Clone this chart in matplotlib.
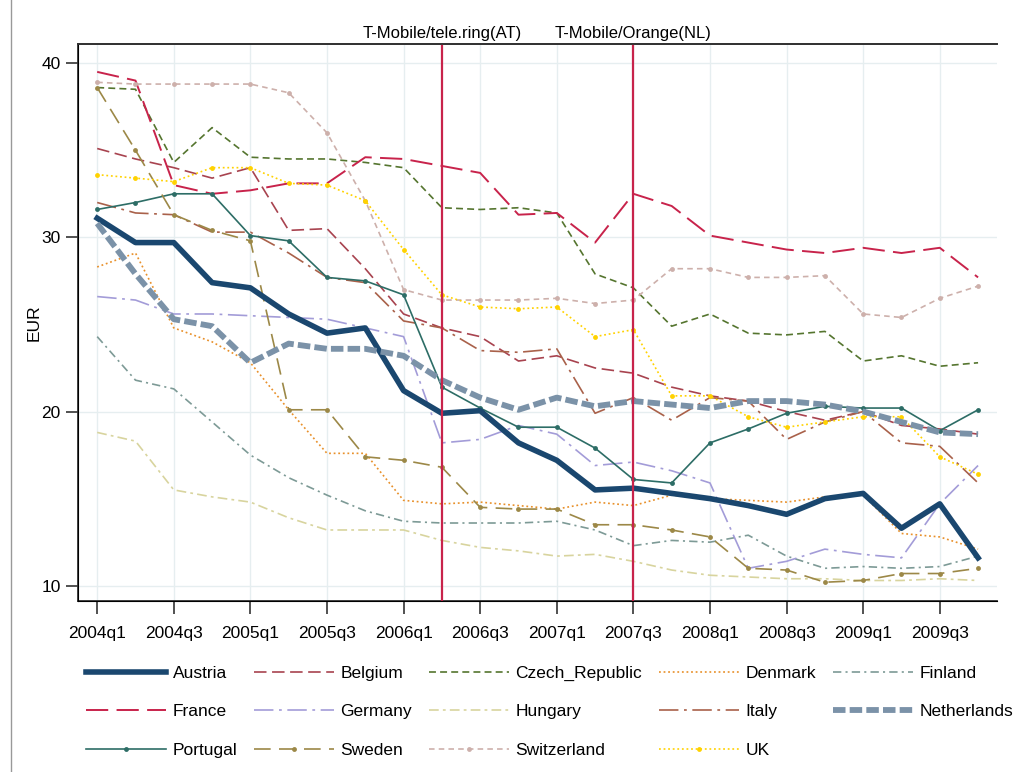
import matplotlib
matplotlib.use('Agg')
import matplotlib.pyplot as plt
from matplotlib.lines import Line2D

plt.rcParams['font.family'] = ['Liberation Sans', 'DejaVu Sans']
plt.rcParams['lines.scale_dashes'] = False

# quarters 2004q1 .. 2009q4
quarters = [f'{y}q{q}' for y in range(2004, 2010) for q in range(1, 5)]
tick_labels = quarters[::2]

austria = [31.1, 29.7, 29.7, 27.4, 27.1, 25.6, 24.5, 24.8, 21.2, 19.9, 20.05, 18.2,
           17.2, 15.5, 15.6, 15.3, 15.0, 14.6, 14.1, 15.0, 15.3, 13.3, 14.7, 11.6]
belgium = [35.1, 34.5, 34.0, 33.4, 34.0, 30.4, 30.5, 28.2, 25.6, 24.8, 24.3, 22.9,
           23.2, 22.5, 22.2, 21.4, 20.9, 20.6, 20.0, 19.5, 20.0, 19.2, 19.0, 18.7]
czech = [38.6, 38.5, 34.3, 36.3, 34.6, 34.5, 34.5, 34.3, 34.0, 31.7, 31.6, 31.7,
         31.4, 27.9, 27.1, 24.9, 25.6, 24.5, 24.4, 24.6, 22.9, 23.2, 22.6, 22.8]
denmark = [28.3, 29.1, 24.8, 24.0, 22.8, 20.1, 17.6, 17.6, 14.9, 14.7, 14.8, 14.6,
           14.4, 14.8, 14.6, 15.2, 15.0, 14.9, 14.8, 15.1, 15.2, 13.0, 12.8, 12.1]
finland = [24.3, 21.8, 21.3, 19.4, 17.5, 16.2, 15.2, 14.3, 13.7, 13.6, 13.6, 13.6,
           13.7, 13.2, 12.3, 12.6, 12.5, 12.9, 11.7, 11.0, 11.1, 11.0, 11.1, 11.7]
france = [39.5, 39.0, 33.0, 32.5, 32.7, 33.1, 33.1, 34.6, 34.5, 34.1, 33.7, 31.3,
          31.4, 29.7, 32.5, 31.8, 30.1, 29.7, 29.3, 29.1, 29.4, 29.1, 29.4, 27.7]
germany = [26.6, 26.4, 25.6, 25.6, 25.5, 25.4, 25.3, 24.8, 24.3, 18.2, 18.4, 19.2,
           18.7, 16.9, 17.1, 16.6, 15.9, 11.0, 11.4, 12.1, 11.8, 11.6, 14.7, 16.9]
hungary = [18.8, 18.3, 15.5, 15.1, 14.8, 13.9, 13.2, 13.2, 13.2, 12.6, 12.2, 12.0,
           11.7, 11.8, 11.4, 10.9, 10.6, 10.5, 10.4, 10.4, 10.3, 10.3, 10.4, 10.3]
italy = [32.0, 31.4, 31.3, 30.3, 30.3, 29.1, 27.7, 27.4, 25.2, 24.8, 23.5, 23.4,
         23.6, 19.9, 20.8, 19.5, 20.8, 20.6, 18.4, 19.4, 20.0, 18.2, 18.0, 15.9]
netherlands = [30.8, 27.9, 25.3, 24.9, 22.8, 23.9, 23.6, 23.6, 23.2, 21.8, 20.8, 20.1,
               20.8, 20.3, 20.6, 20.4, 20.2, 20.6, 20.6, 20.4, 20.0, 19.4, 18.8, 18.7]
portugal = [31.6, 32.0, 32.5, 32.5, 30.1, 29.8, 27.7, 27.5, 26.7, 21.4, 20.2, 19.1,
            19.1, 17.9, 16.1, 15.9, 18.2, 19.0, 19.9, 20.3, 20.2, 20.2, 18.9, 20.1]
sweden = [38.6, 35.0, 31.3, 30.4, 29.8, 20.1, 20.1, 17.4, 17.2, 16.8, 14.5, 14.4,
          14.4, 13.5, 13.5, 13.2, 12.8, 11.0, 10.9, 10.2, 10.3, 10.7, 10.7, 11.0]
switzerland = [38.9, 38.8, 38.8, 38.8, 38.8, 38.3, 36.0, 32.1, 27.0, 26.4, 26.4, 26.4,
               26.5, 26.2, 26.4, 28.2, 28.2, 27.7, 27.7, 27.8, 25.6, 25.4, 26.5, 27.2]
uk = [33.6, 33.4, 33.2, 34.0, 34.0, 33.1, 33.0, 32.1, 29.3, 26.7, 26.0, 25.9,
      26.0, 24.3, 24.7, 20.9, 20.9, 19.7, 19.1, 19.4, 19.7, 19.7, 17.4, 16.4]

events = ['2006q2', '2007q3']
event_labels = ['T-Mobile/tele.ring(AT)', 'T-Mobile/Orange(NL)']

# name, data, color, linewidth, dashes, marker
series = [
    ('Austria', austria, '#1a476f', 4.0, None, None),
    ('Belgium', belgium, '#a8434f', 1.2, (9, 4), None),
    ('Czech_Republic', czech, '#55752f', 1.2, (5, 3), None),
    ('Denmark', denmark, '#e8902a', 1.2, (1.3, 2), None),
    ('Finland', finland, '#7d9a96', 1.2, (6, 3, 1.5, 3), None),
    ('France', france, '#c8234b', 1.4, (16, 6), None),
    ('Germany', germany, '#a39cd8', 1.2, (14, 4, 2, 4), None),
    ('Hungary', hungary, '#d8d49e', 1.2, (7, 3, 2, 3), None),
    ('Italy', italy, '#a9614a', 1.2, (14, 4, 2, 4), None),
    ('Netherlands', netherlands, '#7b92a8', 4.2, (9, 3), None),
    ('Portugal', portugal, '#2d6d66', 1.2, None, 'o'),
    ('Sweden', sweden, '#9c8847', 1.2, (12, 6), 'o'),
    ('Switzerland', switzerland, '#cdb0ab', 1.2, (4, 3), 'o'),
    ('UK', uk, '#ffd200', 1.2, (1.3, 2), 'o'),
]

fig = plt.figure(figsize=(10.27, 7.72), dpi=100)
ax = fig.add_axes([0.076, 0.221, 0.895, 0.722])

x = list(range(len(quarters)))
handles = {}
for name, vals, col, lw, dsh, mk in series:
    kw = {}
    if dsh is not None:
        kw['dashes'] = dsh
    line, = ax.plot(x, vals, color=col, lw=lw, marker=mk, markersize=3.5,
                    markeredgewidth=0, label=name, zorder=3 if lw < 3 else 4, **kw)
    handles[name] = line

for ev in events:
    ax.axvline(quarters.index(ev), color='#c8234b', lw=1.6, zorder=5)

ax.set_xlim(-0.5, 23.5)
ax.set_ylim(9.1, 41.1)
ax.set_xticks(x[::2])
ax.set_xticklabels(tick_labels)
ax.set_yticks([10, 20, 30, 40])
ax.set_ylabel('EUR', fontsize=12.5)
ax.yaxis.set_label_coords(-0.04, 0.5)
ax.tick_params(axis='both', labelsize=12.5, length=9, width=1.2, color='#333333')
ax.tick_params(axis='x', pad=9)
ax.grid(True, color='#e6eef0', lw=1.0, zorder=0)
ax.set_axisbelow(True)
for s in ['left', 'bottom', 'top']:
    ax.spines[s].set_color('#333333')
    ax.spines[s].set_linewidth(1.3)
ax.spines['right'].set_visible(False)

top = ax.twiny()
top.set_xlim(ax.get_xlim())
top.set_xticks([quarters.index(ev) for ev in events])
top.set_xticklabels(event_labels)
top.tick_params(axis='x', length=0, labelsize=12, pad=2)
top.spines['right'].set_visible(False)
top.spines['top'].set_color('#333333')
top.spines['top'].set_linewidth(1.3)

order = ['Austria', 'France', 'Portugal', 'Belgium', 'Germany', 'Sweden',
         'Czech_Republic', 'Hungary', 'Switzerland', 'Denmark', 'Italy', 'UK',
         'Finland', 'Netherlands']
fig.legend([handles[n] for n in order], order, loc='center', ncol=5,
           bbox_to_anchor=(0.535, 0.078), frameon=False, fontsize=12.5,
           handlelength=4.6, handletextpad=0.4, columnspacing=0.95,
           labelspacing=1.35)

fig.add_artist(Line2D([0.011, 0.011], [0.0, 1.0], color='#999999', lw=1.0))

fig.savefig('out.png', dpi=100)
